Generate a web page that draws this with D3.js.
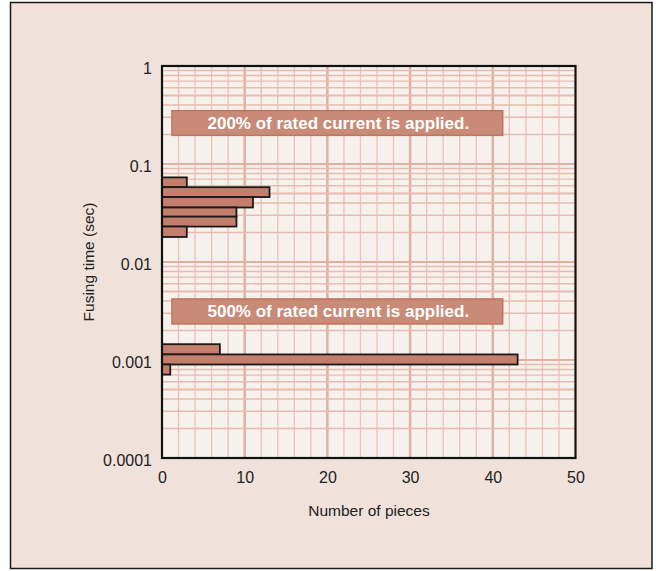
<!DOCTYPE html>
<html><head><meta charset="utf-8">
<script src="https://cdn.jsdelivr.net/npm/d3@7"></script>
<style>
html,body{margin:0;padding:0;background:#ffffff;}
svg{display:block;}
text{font-family:"Liberation Sans",Arial,Helvetica,sans-serif;}
</style></head>
<body>
<svg id="chart" width="656" height="571"></svg>
<script>
// ---- data ----
const xTicks = [0, 10, 20, 30, 40, 50];
const yTicks = [1, 0.1, 0.01, 0.001, 0.0001];
const yTickLabels = ["1", "0.1", "0.01", "0.001", "0.0001"];
// 200% rated current: bin edges (sec, top to bottom) and counts
const bins200 = [0.073, 0.058, 0.046, 0.036, 0.029, 0.023, 0.018];
const counts200 = [3, 13, 11, 9, 9, 3];
// 500% rated current
const bins500 = [0.00145, 0.00114, 0.0009, 0.00071];
const counts500 = [7, 43, 1];
const labels = ["200% of rated current is applied.", "500% of rated current is applied."];
const labelTop = [0.35, 0.0042];
const labelBottom = [0.196, 0.00233];

// ---- layout ----
const svg = d3.select("#chart");
const W = 656, H = 571;
const m = {left: 162, top: 66, right: 575.5, bottom: 458};
const x = d3.scaleLinear().domain([0, 50]).range([m.left, m.right]);
const y = d3.scaleLog().domain([0.0001, 1]).range([m.bottom, m.top]);

// outer background + frame
svg.append("rect").attr("x", 0).attr("y", 0).attr("width", W).attr("height", H).attr("fill", "#ffffff");
svg.append("rect").attr("x", 10.5).attr("y", 2.5).attr("width", 641.5).attr("height", 566)
  .attr("fill", "#f0e1db").attr("stroke", "#1a1a1a").attr("stroke-width", 1.5);

// plot background
svg.append("rect").attr("x", m.left).attr("y", m.top).attr("width", m.right - m.left).attr("height", m.bottom - m.top)
  .attr("fill", "#f7f1ee");

const grid = svg.append("g");
// vertical grid: every 2 units, major every 10
d3.range(2, 50, 2).forEach(v => {
  const major = v % 10 === 0;
  grid.append("line").attr("x1", x(v)).attr("x2", x(v)).attr("y1", m.top).attr("y2", m.bottom)
    .attr("stroke", major ? "#deb1a2" : "#e9c3b6").attr("stroke-width", major ? 2.5 : 1.3);
});
// horizontal log grid
[0.0001, 0.001, 0.01, 0.1].forEach(dec => {
  for (let k = 2; k <= 9; k++) {
    const v = dec * k;
    grid.append("line").attr("x1", m.left).attr("x2", m.right).attr("y1", y(v)).attr("y2", y(v))
      .attr("stroke", "#e7bcae").attr("stroke-width", (k === 5) ? 1.8 : 1.3);
  }
  if (dec > 0.0001) {
    grid.append("line").attr("x1", m.left).attr("x2", m.right).attr("y1", y(dec)).attr("y2", y(dec))
      .attr("stroke", "#deb1a2").attr("stroke-width", 2.2);
  }
});

// annotation boxes
labels.forEach((t, i) => {
  const y0 = y(labelTop[i]), y1 = y(labelBottom[i]);
  svg.append("rect").attr("x", x(1.2)).attr("y", y0).attr("width", x(41.2) - x(1.2)).attr("height", y1 - y0)
    .attr("fill", "#c98a78").attr("stroke", "#c27462").attr("stroke-width", 1.5);
  svg.append("text").attr("x", (x(1.2) + x(41.2)) / 2 + 1).attr("y", (y0 + y1) / 2 + 6)
    .attr("text-anchor", "middle").attr("fill", "#ffffff").attr("font-weight", "bold").attr("font-size", 17)
    .text(t);
});

// bars
function drawBars(edges, counts) {
  svg.append("g").selectAll("rect").data(counts).join("rect")
    .attr("x", x(0))
    .attr("y", (d, i) => y(edges[i]))
    .attr("width", d => x(d) - x(0))
    .attr("height", (d, i) => y(edges[i + 1]) - y(edges[i]))
    .attr("fill", "#c47f6c").attr("stroke", "#1a1a1a").attr("stroke-width", 1.8);
}
drawBars(bins200, counts200);
drawBars(bins500, counts500);

// plot frame
svg.append("rect").attr("x", m.left).attr("y", m.top).attr("width", m.right - m.left).attr("height", m.bottom - m.top)
  .attr("fill", "none").attr("stroke", "#111").attr("stroke-width", 2.2);

// axes
const xAxis = d3.axisBottom(x).tickValues(xTicks).tickSize(0).tickPadding(14);
const gx = svg.append("g").attr("transform", `translate(0,${m.bottom})`).call(xAxis);
gx.select(".domain").remove();
gx.selectAll("text").attr("font-size", 16).attr("fill", "#222").attr("font-family", "Liberation Sans, Arial, sans-serif");

const yAxis = d3.axisLeft(y).tickValues(yTicks).tickFormat((d, i) => yTickLabels[i]).tickSize(0).tickPadding(10);
const gy = svg.append("g").attr("transform", `translate(${m.left},0)`).call(yAxis);
gy.select(".domain").remove();
gy.selectAll("text").attr("font-size", 16).attr("fill", "#222").attr("dy", "0.45em")
  .attr("font-family", "Liberation Sans, Arial, sans-serif");

svg.append("text").attr("x", 369).attr("y", 516).attr("text-anchor", "middle")
  .attr("font-size", 15.5).attr("fill", "#222").text("Number of pieces");
svg.append("text").attr("transform", "translate(94,262) rotate(-90)").attr("text-anchor", "middle")
  .attr("font-size", 15.5).attr("fill", "#222").text("Fusing time (sec)");
</script>
</body></html>
